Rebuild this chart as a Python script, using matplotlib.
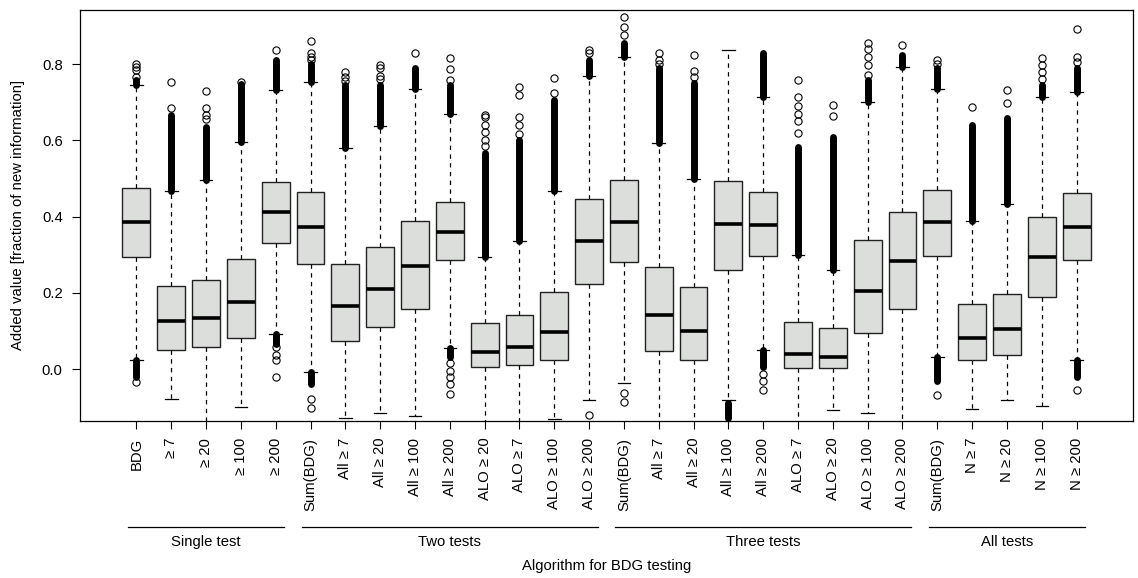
import matplotlib
matplotlib.use("Agg")
import matplotlib.pyplot as plt

plt.rcParams["font.family"] = ["Liberation Sans", "DejaVu Sans"]
plt.rcParams["font.size"] = 10.7

labels = ["BDG", "\u2265 7", "\u2265 20", "\u2265 100", "\u2265 200",
          "Sum(BDG)", "All \u2265 7", "All \u2265 20", "All \u2265 100", "All \u2265 200",
          "ALO \u2265 20", "ALO \u2265 7", "ALO \u2265 100", "ALO \u2265 200",
          "Sum(BDG)", "All \u2265 7", "All \u2265 20", "All \u2265 100", "All \u2265 200",
          "ALO \u2265 7", "ALO \u2265 20", "ALO \u2265 100", "ALO \u2265 200",
          "Sum(BDG)", "N \u2265 7", "N \u2265 20", "N \u2265 100", "N \u2265 200"]

groups = ["Single test", "Two tests", "Three tests", "All tests"]
group_sizes = [5, 9, 9, 5]

whislo = [0.024, -0.077, -0.16, -0.100, 0.093, -0.008, -0.128, -0.115, -0.124, 0.056,
          -0.16, -0.16, -0.130, -0.081, -0.036, -0.138, -0.16, -0.081, 0.050,
          -0.16, -0.108, -0.115, -0.16, 0.032, -0.104, -0.080, -0.096, 0.025]
q1 = [0.294, 0.050, 0.059, 0.082, 0.330, 0.275, 0.073, 0.110, 0.157, 0.285,
      0.006, 0.010, 0.025, 0.223, 0.280, 0.047, 0.025, 0.261, 0.298,
      0.004, 0.003, 0.095, 0.157, 0.296, 0.023, 0.038, 0.190, 0.287]
med = [0.386, 0.125, 0.135, 0.176, 0.411, 0.372, 0.165, 0.210, 0.271, 0.361,
       0.045, 0.058, 0.097, 0.337, 0.387, 0.141, 0.101, 0.382, 0.379,
       0.040, 0.033, 0.206, 0.283, 0.386, 0.081, 0.104, 0.295, 0.373]
q3 = [0.474, 0.218, 0.233, 0.288, 0.490, 0.465, 0.277, 0.321, 0.389, 0.438,
      0.122, 0.141, 0.203, 0.445, 0.497, 0.267, 0.216, 0.494, 0.465,
      0.123, 0.107, 0.338, 0.413, 0.471, 0.170, 0.197, 0.400, 0.463]
whishi = [0.744, 0.467, 0.495, 0.595, 0.731, 0.752, 0.581, 0.637, 0.736, 0.669,
          0.293, 0.335, 0.468, 0.769, 0.819, 0.592, 0.499, 0.837, 0.713,
          0.299, 0.260, 0.701, 0.793, 0.734, 0.388, 0.433, 0.713, 0.727]

# ranges where outlier circles overlap into a solid column
dense_up = [(0.744, 0.758), (0.467, 0.666), (0.495, 0.636), (0.595, 0.749), (0.731, 0.810),
            (0.752, 0.800), (0.581, 0.745), (0.637, 0.745), (0.736, 0.790), (0.669, 0.745),
            (0.293, 0.566), (0.335, 0.600), (0.468, 0.706), (0.769, 0.810), (0.819, 0.855),
            (0.592, 0.790), (0.499, 0.750), None, (0.713, 0.830),
            (0.299, 0.583), (0.260, 0.609), (0.701, 0.758), (0.793, 0.825),
            (0.734, 0.790), (0.388, 0.640), (0.433, 0.660), (0.713, 0.745), (0.727, 0.790)]
dense_low = [(-0.020, 0.024), None, None, None, (0.067, 0.093), (-0.038, -0.008), None, None,
             None, (0.032, 0.056), None, None, None, None, None, None, None, (-0.128, -0.090),
             (0.006, 0.050), None, None, None, None, (-0.030, 0.032), None, None, None,
             (-0.020, 0.025)]
fliers = [[0.767, 0.784, 0.793, 0.800, -0.035],
          [0.685, 0.754],
          [0.657, 0.666, 0.684, 0.730],
          [0.754],
          [0.838, 0.059, 0.037, 0.025, -0.021],
          [0.810, 0.820, 0.828, 0.861, -0.077, -0.101],
          [0.755, 0.765, 0.780],
          [0.760, 0.770, 0.790, 0.797],
          [0.828],
          [0.758, 0.786, 0.815, 0.015, -0.005, -0.020, -0.040, -0.064],
          [0.585, 0.600, 0.623, 0.640, 0.662, 0.666],
          [0.618, 0.640, 0.662, 0.719, 0.741],
          [0.723, 0.764],
          [0.828, 0.837, -0.119],
          [0.876, 0.898, 0.924, -0.062, -0.085],
          [0.800, 0.810, 0.828],
          [0.765, 0.783, 0.825],
          [],
          [-0.012, -0.030, -0.055],
          [0.620, 0.650, 0.670, 0.690, 0.714, 0.758],
          [0.664, 0.692],
          [0.771, 0.797, 0.819, 0.841, 0.856],
          [0.850],
          [0.800, 0.810, -0.068],
          [0.688],
          [0.697, 0.732],
          [0.760, 0.780, 0.797, 0.816],
          [0.805, 0.820, 0.891, -0.055]]

stats = []
for i in range(len(labels)):
    stats.append(dict(whislo=whislo[i], q1=q1[i], med=med[i], q3=q3[i],
                      whishi=whishi[i], fliers=fliers[i]))

fig = plt.figure(figsize=(11.38, 5.78), dpi=100)
ax = fig.add_axes([80 / 1138, 157 / 578, 1053 / 1138, 411 / 578])

pos = list(range(1, len(labels) + 1))
ax.bxp(stats, positions=pos, widths=0.8, capwidths=0.36, patch_artist=True,
       boxprops=dict(facecolor="#dcdedc", edgecolor="#222222", linewidth=1.0),
       medianprops=dict(color="black", linewidth=2.6, solid_capstyle="butt"),
       whiskerprops=dict(color="black", linewidth=0.9, linestyle=(0, (3.5, 3.5))),
       capprops=dict(color="black", linewidth=0.9),
       flierprops=dict(marker="o", markersize=5.2, markerfacecolor="none",
                       markeredgecolor="black", markeredgewidth=0.8))

for p, du, dl in zip(pos, dense_up, dense_low):
    for d in (du, dl):
        if d is not None:
            ax.plot([p, p], [d[0], d[1]], color="black", linewidth=5.0,
                    solid_capstyle="round", zorder=3)

ax.set_xlim(-0.62, 29.62)
ax.set_ylim(-0.136, 0.942)
ax.set_yticks([0.0, 0.2, 0.4, 0.6, 0.8])
ax.set_yticklabels(["0.0", "0.2", "0.4", "0.6", "0.8"])
ax.set_xticks(pos)
ax.set_xticklabels(labels, rotation=90, va="top", ha="center")
ax.tick_params(axis="both", length=5.5, width=0.8, direction="out")
ax.tick_params(axis="x", pad=6.5)
ax.tick_params(axis="y", pad=7)
for s in ax.spines.values():
    s.set_linewidth(0.9)

# group bars under the tick labels
trans = ax.get_xaxis_transform()
start = 1
for name, n in zip(groups, group_sizes):
    end = start + n - 1
    ax.plot([start - 0.25, end + 0.25], [-0.258, -0.258], color="black",
            linewidth=0.9, transform=trans, clip_on=False)
    ax.text((start + end) / 2, -0.294, name, transform=trans, ha="center", va="center")
    start = end + 1

fig.text(606.5 / 1138, 12 / 578, "Algorithm for BDG testing", ha="center", va="center")
fig.text(18 / 1138, 1 - 215.5 / 578, "Added value [fraction of new information]",
         rotation=90, ha="center", va="center")

fig.savefig("out.png", dpi=100)
